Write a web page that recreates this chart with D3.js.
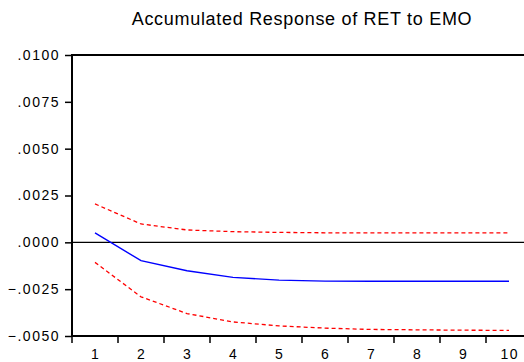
<!DOCTYPE html>
<html>
<head>
<meta charset="utf-8">
<script src="https://cdn.jsdelivr.net/npm/d3@7/dist/d3.min.js"></script>
<style>
  body { margin: 0; background: #fff; }
  svg { display: block; font-family: "Liberation Sans", Arial, sans-serif; }
</style>
</head>
<body>
<div id="chart"></div>
<script>
// periods and accumulated responses
const periods = [1, 2, 3, 4, 5, 6, 7, 8, 9, 10];
const response = [0.00051, -0.00098, -0.00152, -0.00187, -0.00202, -0.00207, -0.00208, -0.00208, -0.00208, -0.00208];
const upperBand = [0.00205, 0.00098, 0.00066, 0.00057, 0.00053, 0.00051, 0.00051, 0.00051, 0.00051, 0.00051];
const lowerBand = [-0.00107, -0.00291, -0.0038, -0.00425, -0.00446, -0.00458, -0.00465, -0.00467, -0.00469, -0.0047];
const yTicks = [-0.005, -0.0025, 0, 0.0025, 0.005, 0.0075, 0.01];
const title = "Accumulated Response of RET to EMO";

const width = 524, height = 362;
const m = { left: 72, top: 55, bottom: 336, right: 532 }; // plot runs past the right edge

const svg = d3.select("#chart").append("svg")
    .attr("width", width)
    .attr("height", height);

const x = d3.scaleBand().domain(periods).range([m.left, m.right]).padding(0);
const y = d3.scaleLinear().domain([-0.005, 0.01]).range([m.bottom, m.top]);
const cx = d => x(d) + x.bandwidth() / 2;

// title
svg.append("text")
    .attr("x", (m.left + m.right) / 2)
    .attr("y", 25)
    .attr("text-anchor", "middle")
    .style("font-size", "18px")
    .style("letter-spacing", "0.7px")
    .text(title);

// zero line
svg.append("line")
    .attr("x1", m.left).attr("x2", m.right)
    .attr("y1", y(0)).attr("y2", y(0))
    .attr("stroke", "#000")
    .attr("stroke-width", 1.2);

// y axis
const fmt = v => d3.format(".4f")(v).replace("0.", ".");
const yAxis = svg.append("g")
    .attr("transform", `translate(${m.left},0)`)
    .call(d3.axisLeft(y).tickValues(yTicks).tickFormat(fmt).tickSize(7).tickPadding(5));

// x axis: ticks at band edges, labels at band centres
const xAxis = svg.append("g")
    .attr("transform", `translate(0,${m.bottom})`)
    .call(d3.axisBottom(x).tickSize(0).tickPadding(13));
xAxis.selectAll(".edge")
    .data(periods)
    .enter().append("line")
    .attr("class", "edge")
    .attr("x1", d => x(d)).attr("x2", d => x(d))
    .attr("y1", 0).attr("y2", 7)
    .attr("stroke", "#000")
    .attr("stroke-width", 1.5);

[yAxis, xAxis].forEach(g => {
    g.select(".domain").remove();
    g.selectAll("text").style("font-size", "14px").attr("fill", "#000").style("letter-spacing", "1.5px");
    g.selectAll(".tick line").attr("stroke", "#000").attr("stroke-width", 1.5);
});
xAxis.selectAll("text").attr("dx", "0.75px");

// frame (top, left, bottom)
svg.append("path")
    .attr("d", `M${m.right},${m.top}H${m.left}V${m.bottom}H${m.right}`)
    .attr("fill", "none")
    .attr("stroke", "#000")
    .attr("stroke-width", 2);

const line = d3.line().x((d, i) => cx(periods[i])).y(d => y(d));

svg.append("path")
    .datum(upperBand)
    .attr("d", line)
    .attr("fill", "none")
    .attr("stroke", "#ff0000")
    .attr("stroke-width", 1.3)
    .attr("stroke-dasharray", "4,3");

svg.append("path")
    .datum(lowerBand)
    .attr("d", line)
    .attr("fill", "none")
    .attr("stroke", "#ff0000")
    .attr("stroke-width", 1.3)
    .attr("stroke-dasharray", "4,3");

svg.append("path")
    .datum(response)
    .attr("d", line)
    .attr("fill", "none")
    .attr("stroke", "#0000ff")
    .attr("stroke-width", 1.4);
</script>
</body>
</html>
